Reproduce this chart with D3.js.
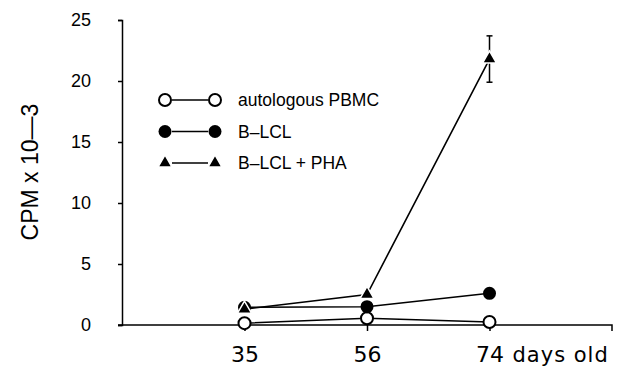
<!DOCTYPE html>
<html>
<head>
<meta charset="utf-8">
<script src="https://cdn.jsdelivr.net/npm/d3@7"></script>
<style>
  body { margin: 0; background: #fff; }
  .axis path, .axis line { stroke: #000; stroke-width: 1.5; }
  .axis text { font-family: "Liberation Sans", Arial, sans-serif; fill: #000; }
</style>
</head>
<body>
<div class="chart"></div>
<script>
// values (CPM x 10^-3)
var days = ["35", "56", "74"],
    seriesNames = ["autologous PBMC", "B-LCL", "B-LCL + PHA"],
    pbmc = [0.15, 0.55, 0.25],
    blcl = [1.45, 1.5, 2.6],
    blclPha = [1.3, 2.5, 21.8],
    phaErr = [0, 0, 1.9],
    yTicks = [0, 5, 10, 15, 20, 25];

var width = 619,
    height = 366;

var svg = d3.select(".chart").
    append("svg").
    attr("width", width).
    attr("height", height);

var x = d3.scalePoint().domain(["", "35", "56", "74", " "]).range([122, 612]),
    y = d3.scaleLinear().domain([0, 25]).range([325, 20]);

// axes
svg.append("g").
    attr("class", "axis").
    attr("transform", "translate(122,0)").
    call(d3.axisLeft(y).tickValues(yTicks).tickSize(4).tickPadding(27)).
    selectAll("text").
    style("font-size", "18px");

var xAxis = svg.append("g").
    attr("class", "axis").
    attr("transform", "translate(0,325)").
    call(d3.axisBottom(x).tickValues(days).tickSize(6).tickSizeOuter(6));
xAxis.selectAll(".tick text").
    attr("y", 37).
    attr("dy", 0).
    style("font-family", "'DejaVu Sans', sans-serif").
    style("font-size", "22px");
xAxis.select(".domain").attr("d", "M118,0H612V6");

// "days old" after the last tick label
var lastLabel = xAxis.selectAll(".tick text").filter(function(d) { return d === "74"; }).node();
var lw = lastLabel.getComputedTextLength();
xAxis.append("text").
    attr("x", x("74") + lw / 2 + 9).
    attr("y", 37).
    attr("text-anchor", "start").
    style("font-family", "'DejaVu Sans', sans-serif").
    style("font-size", "21px").
    style("letter-spacing", "1px").
    attr("fill", "#000").
    text("days old");

svg.append("text").
    attr("transform", "translate(38,172) rotate(-90)").
    attr("text-anchor", "middle").
    style("font-family", "'Liberation Sans', Arial, sans-serif").
    style("font-size", "23px").
    text("CPM x 10\u20143");

var line = d3.line().
    x(function(d) { return x(d.day); }).
    y(function(d) { return y(d.v); });

function pts(vals) {
    return vals.map(function(v, i) { return {day: days[i], v: v}; });
}

var series = [
    {name: seriesNames[0], values: pts(pbmc), mark: "open"},
    {name: seriesNames[1], values: pts(blcl), mark: "dot"},
    {name: seriesNames[2], values: pts(blclPha), mark: "tri"}
];

series.forEach(function(s) {
    svg.append("path").
        attr("d", line(s.values)).
        attr("fill", "none").
        attr("stroke", "#000").
        attr("stroke-width", 1.6);
});

// error bar on the PHA series
var capW = 3;
blclPha.forEach(function(v, i) {
    if (!phaErr[i]) return;
    var cx = x(days[i]);
    var g = svg.append("g").attr("stroke", "#000").attr("stroke-width", 1.5);
    g.append("line").attr("x1", cx).attr("x2", cx).attr("y1", y(v + phaErr[i])).attr("y2", y(v - phaErr[i]));
    g.append("line").attr("x1", cx - capW).attr("x2", cx + capW).attr("y1", y(v + phaErr[i])).attr("y2", y(v + phaErr[i]));
    g.append("line").attr("x1", cx - capW).attr("x2", cx + capW).attr("y1", y(v - phaErr[i])).attr("y2", y(v - phaErr[i]));
});

var tri = d3.symbol().type(d3.symbolTriangle).size(85);

function drawMark(sel, kind) {
    if (kind === "tri") {
        sel.append("path").attr("d", tri).attr("fill", "#000").attr("stroke", "#fff").attr("stroke-width", 1.5);
    } else if (kind === "dot") {
        sel.append("circle").attr("r", 6.5).attr("fill", "#000");
    } else {
        sel.append("circle").attr("r", 6).attr("fill", "#fff").attr("stroke", "#000").attr("stroke-width", 2);
    }
}

// draw open circles first, then dots, triangles on top
series.forEach(function(s) {
    svg.selectAll(null).
        data(s.values).
        enter().
        append("g").
        attr("transform", function(d) { return "translate(" + x(d.day) + "," + y(d.v) + ")"; }).
        each(function() { drawMark(d3.select(this), s.mark); });
});

// legend
var legend = svg.selectAll(".legend").
    data(series).
    enter().
    append("g").
    attr("class", "legend").
    attr("transform", function(d, i) { return "translate(165," + (100 + i * 31.5) + ")"; });

legend.append("line").
    attr("x1", 7).attr("x2", 43).
    attr("stroke", "#000").attr("stroke-width", 1.5);
legend.each(function(d) {
    drawMark(d3.select(this).append("g"), d.mark);
    drawMark(d3.select(this).append("g").attr("transform", "translate(50,0)"), d.mark);
});
legend.append("text").
    attr("x", 73).
    attr("dy", "0.36em").
    style("font-family", "'Liberation Sans', Arial, sans-serif").
    style("font-size", "17.5px").
    text(function(d) { return d.name.replace(/-/g, "\u2013"); });
</script>
</body>
</html>
